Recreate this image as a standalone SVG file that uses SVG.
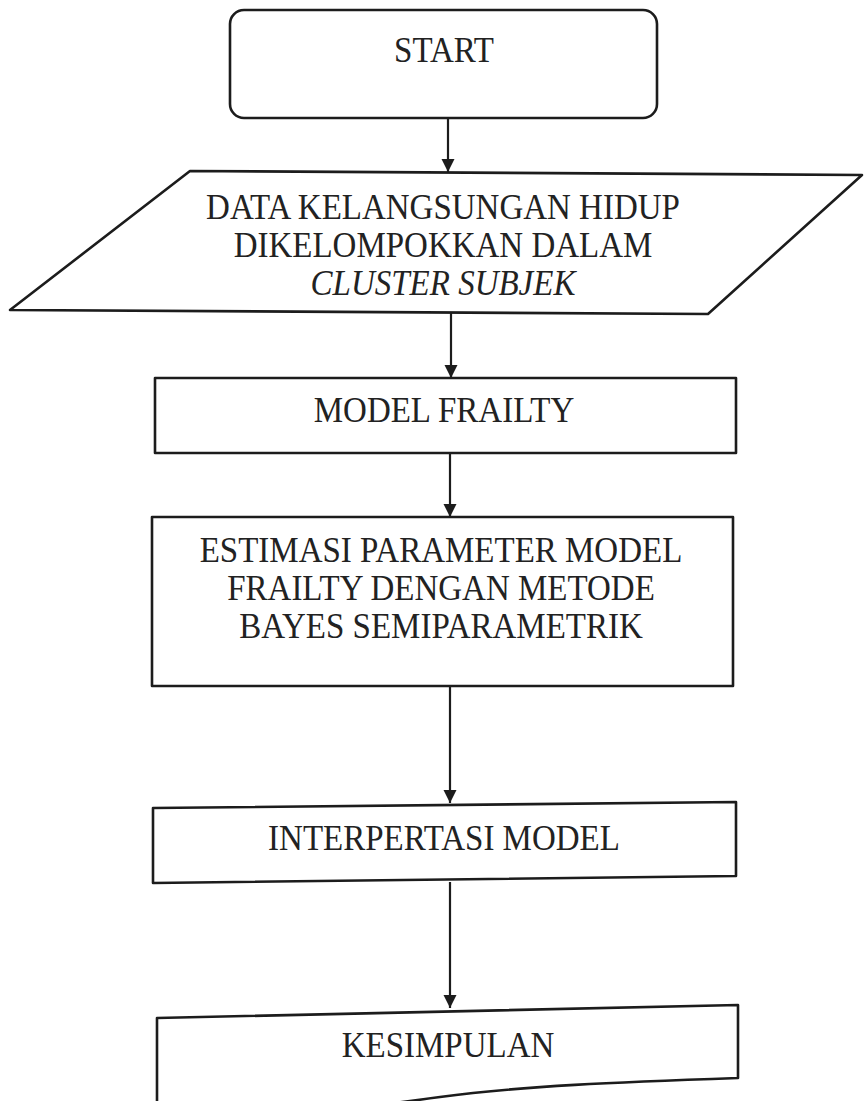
<svg xmlns="http://www.w3.org/2000/svg" width="864" height="1101" viewBox="0 0 864 1101">
<style>
.shape{fill:#fff;stroke:#1c1c1c;stroke-width:2.6;stroke-linejoin:round}
.t{font-family:"Liberation Serif","Times New Roman",serif;font-size:33px;fill:#222;text-anchor:middle}
.i{font-style:italic}
.c{stroke:#1c1c1c;stroke-width:2.2;fill:none}
</style>
<defs>
<marker id="ah" viewBox="0 0 10 10" refX="10" refY="5" markerWidth="6" markerHeight="6" markerUnits="strokeWidth" orient="auto">
<path d="M0,0 L10,5 L0,10 Z" fill="#1c1c1c"/>
</marker>
</defs>
<rect width="864" height="1101" fill="#fff"/>
<g id="connectors">
<line class="c" x1="448" y1="118" x2="448" y2="172" marker-end="url(#ah)"/>
<line class="c" x1="451" y1="312" x2="451" y2="378" marker-end="url(#ah)"/>
<line class="c" x1="450" y1="453" x2="450" y2="517" marker-end="url(#ah)"/>
<line class="c" x1="450" y1="686" x2="450" y2="803" marker-end="url(#ah)"/>
<line class="c" x1="450" y1="882" x2="450" y2="1008" marker-end="url(#ah)"/>
</g>
<g id="start">
<rect class="shape" x="230" y="10" width="427" height="108" rx="14"/>
<text class="t" transform="translate(444,62) scale(1,1.1)">START</text>
</g>
<g id="data">
<polygon class="shape" points="190,171 862,175 708,314 10,310"/>
<text class="t" transform="translate(443,219) scale(1,1.1)">DATA KELANGSUNGAN HIDUP</text>
<text class="t" transform="translate(443,257) scale(1,1.1)">DIKELOMPOKKAN DALAM</text>
<text class="t i" transform="translate(443,295) scale(1,1.1)">CLUSTER SUBJEK</text>
</g>
<g id="model">
<rect class="shape" x="155" y="378" width="581" height="75"/>
<text class="t" transform="translate(444,422) scale(1,1.1)">MODEL FRAILTY</text>
</g>
<g id="estimasi">
<rect class="shape" x="152" y="517" width="581" height="169"/>
<text class="t" transform="translate(441,562) scale(1,1.1)">ESTIMASI PARAMETER MODEL</text>
<text class="t" transform="translate(441,600) scale(1,1.1)">FRAILTY DENGAN METODE</text>
<text class="t" transform="translate(441,638) scale(1,1.1)">BAYES SEMIPARAMETRIK</text>
</g>
<g id="interpretasi">
<polygon class="shape" points="153,808 736,802 736,876 153,883"/>
<text class="t" transform="translate(444,850) scale(1,1.1)">INTERPERTASI MODEL</text>
</g>
<g id="kesimpulan">
<path class="shape" d="M157,1018 L738,1005 L738,1078 C620,1082 520,1086 440,1097 C360,1108 260,1120 157,1125 Z"/>
<text class="t" transform="translate(448,1057) scale(1,1.1)">KESIMPULAN</text>
</g>
</svg>
